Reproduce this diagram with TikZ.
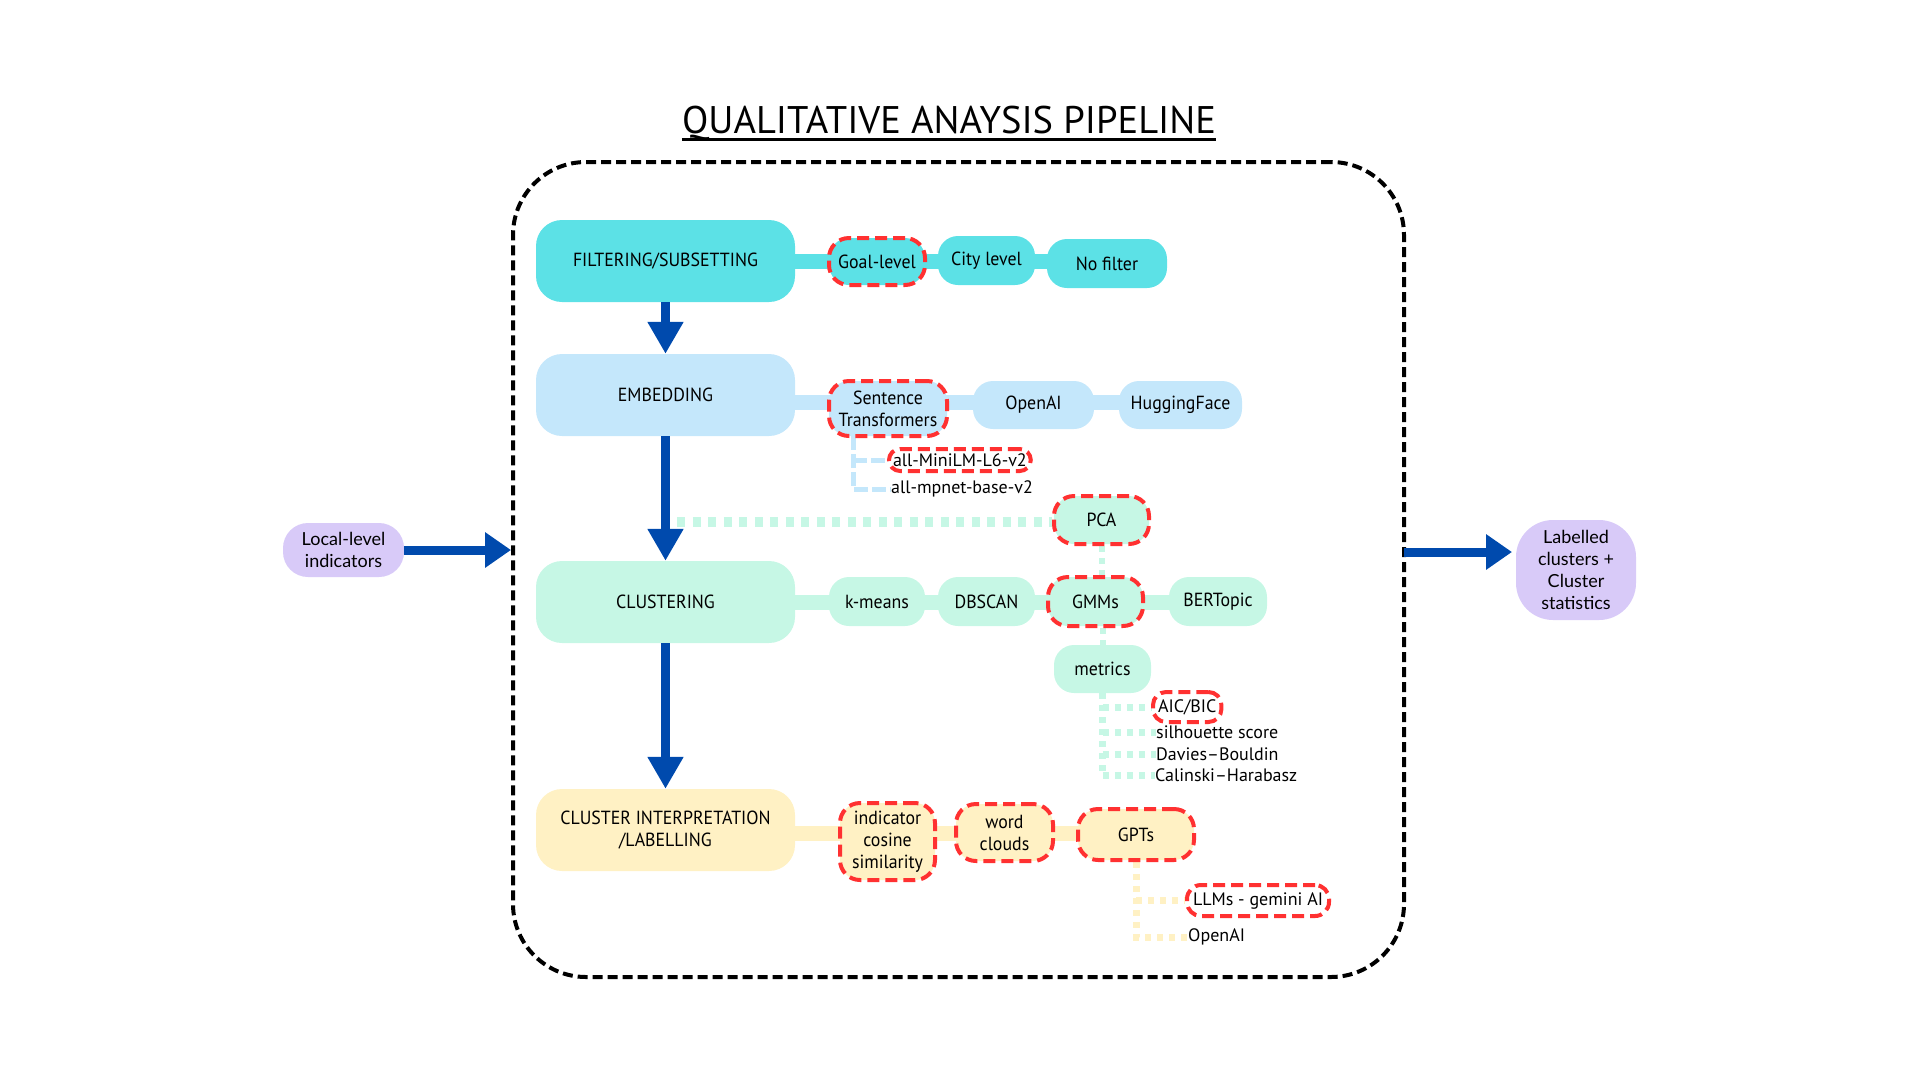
\documentclass[tikz,border=0pt]{standalone}
\usepackage{fontspec}
\setmainfont{PT Sans}
\newfontfamily\condfont{PT Sans}[FakeStretch=0.94]
\newfontfamily\lavfont{Lato}
\usetikzlibrary{arrows.meta,backgrounds}
\definecolor{cyanA}{HTML}{5CE1E6}
\definecolor{blueL}{HTML}{C4E7FB}
\definecolor{mintL}{HTML}{C6F7E5}
\definecolor{yelL}{HTML}{FFF1C4}
\definecolor{lav}{HTML}{D8CAF8}
\definecolor{selred}{HTML}{FF3131}
\definecolor{arrblue}{HTML}{004AAD}
\begin{document}
\begin{tikzpicture}[x=1pt,y=-1pt,
  stage/.style={rounded corners=26pt, minimum width=259pt, minimum height=82pt, inner sep=0pt, align=center, font=\condfont\fontsize{19}{22}\selectfont},
  opt/.style={rounded corners=20pt, inner sep=0pt, minimum height=48pt, align=center, font=\condfont\fontsize{19}{22}\selectfont},
  sel/.style={draw=selred, line width=4pt, dash pattern=on 12pt off 6pt},
  subtxt/.style={inner sep=0pt, anchor=west, font=\fontsize{18}{21}\selectfont},
  lavnode/.style={fill=lav, inner sep=0pt, align=center, font=\lavfont\fontsize{18}{22}\selectfont},
  varr/.style={draw=arrblue, line width=9pt, -{Triangle[length=32pt,width=34pt]}},
  harr/.style={draw=arrblue, line width=9pt, -{Triangle[length=26pt,width=34pt]}},
  band/.style={line width=15pt},
  dotsA/.style={line width=7pt, dash pattern=on 6pt off 6pt},
]
\useasboundingbox (0,0) rectangle (1920,1080);

% title
\node[inner sep=0pt, anchor=base, font=\fontsize{38.5}{42}\selectfont] (title) at (949,133) {QUALITATIVE ANAYSIS PIPELINE};
\draw[line width=3pt] ([yshift=-6pt]title.base west) -- ([yshift=-6pt]title.base east);

% frame
\node[draw, line width=4pt, dash pattern=on 10pt off 5pt, rounded corners=73pt, minimum width=891pt, minimum height=815pt, inner sep=0pt] (frame) at (958.5,569.5) {};

% stages
\node[stage, fill=cyanA] (filter) at (665.5,261) {FILTERING/SUBSETTING};
\node[stage, fill=blueL] (embed) at (665.5,395) {EMBEDDING};
\node[stage, fill=mintL] (clust) at (665.5,602) {CLUSTERING};
\node[stage, fill=yelL] (interp) at (665.5,830) {CLUSTER INTERPRETATION\\/LABELLING};

% row 1
\node[opt, fill=cyanA, sel, minimum width=96pt, minimum height=47pt] (goal) at (877,261.5) {Goal-level};
\node[opt, fill=cyanA, minimum width=97pt, minimum height=49pt] (city) at (986.5,260.5) {City level};
\node[opt, fill=cyanA, minimum width=120pt, minimum height=49pt] (nofilter) at (1107,263.5) {No filter};

% row 2
\node[opt, fill=blueL, sel, minimum width=118pt, minimum height=55pt] (sent) at (888,408.5) {Sentence\\Transformers};
\node[opt, fill=blueL, minimum width=121pt] (openai) at (1033.5,405) {OpenAI};
\node[opt, fill=blueL, minimum width=123pt] (hug) at (1180.5,405) {HuggingFace};
\node[subtxt, sel, rounded corners=11pt, inner xsep=4pt, minimum height=22pt] (minilm) at (887,460) {all-MiniLM-L6-v2};
\node[subtxt] (mpnet) at (891,489) {all-mpnet-base-v2};

% PCA
\node[opt, fill=mintL, sel, minimum width=95pt] (pca) at (1101.5,520) {PCA};

% row 3
\node[opt, fill=mintL, minimum width=96pt, minimum height=49pt] (kmeans) at (877,601.5) {k-means};
\node[opt, fill=mintL, minimum width=97pt, minimum height=49pt] (dbscan) at (986.5,601.5) {DBSCAN};
\node[opt, fill=mintL, sel, minimum width=95pt, minimum height=49pt] (gmm) at (1095.5,601.5) {GMMs};
\node[opt, fill=mintL, minimum width=98pt, minimum height=49pt] (bert) at (1218,601.5) {BERTopic};
\node[opt, fill=mintL, minimum width=97pt] (metrics) at (1102.5,669) {metrics};
\node[subtxt, sel, rounded corners=13pt, inner xsep=5pt, minimum height=30pt] (aic) at (1151,707) {AIC/BIC};
\node[subtxt] (sil) at (1156,732) {silhouette score};
\node[subtxt] (dav) at (1156,754) {Davies–Bouldin};
\node[subtxt] (cal) at (1155,775) {Calinski–Harabasz};

% row 4
\node[opt, fill=yelL, sel, minimum width=95pt, minimum height=77pt] (cos) at (887.5,841.5) {indicator\\cosine\\similarity};
\node[opt, fill=yelL, sel, minimum width=97pt, minimum height=57pt] (word) at (1004.5,832.5) {word\\clouds};
\node[opt, fill=yelL, sel, minimum width=116pt, minimum height=51pt] (gpts) at (1136,834.5) {GPTs};
\node[subtxt, sel, rounded corners=14pt, inner xsep=6pt, minimum height=31pt] (llm) at (1185,900.5) {LLMs - gemini AI};
\node[subtxt] (oai2) at (1188,937) {OpenAI};

% side nodes
\node[lavnode, rounded corners=25pt, minimum width=121pt, minimum height=54pt] (local) at (343.5,550) {Local-level\\indicators};
\node[lavnode, rounded corners=37pt, minimum width=120pt, minimum height=100pt] (lab) at (1576,570) {Labelled\\clusters +\\Cluster\\statistics};

% connectors behind
\coordinate (b2) at (795,402);
\coordinate (b4) at (795,833);
\coordinate (pcastart) at (677,522);
\coordinate (es) at (853,436);
\coordinate (rout) at (1404,552);
\coordinate (rin) at (1512,552);
\begin{scope}[on background layer]
  \draw[band, cyanA] (filter.east) -- (filter.east -| nofilter.center);
  \draw[band, blueL] (b2) -- (b2 -| hug.center);
  \draw[band, mintL] (clust.east) -- (clust.east -| bert.center);
  \draw[band, yelL] (b4) -- (b4 -| gpts.center);
  \draw[blueL, line width=5pt, dash pattern=on 14pt off 4pt] (es) -- (es |- mpnet.west) -- (mpnet.west);
  \draw[blueL, line width=5pt, dash pattern=on 14pt off 4pt] (es |- minilm.west) -- (minilm.west);
  \draw[mintL, line width=10pt, dash pattern=on 8pt off 7.5pt] (pcastart) -- (pcastart -| pca.west);
  \draw[mintL, line width=6pt, dash pattern=on 6pt off 6pt] (pca.south) -- (pca.south |- gmm.north);
  \draw[mintL, line width=6pt, dash pattern=on 6pt off 6pt] (metrics.north |- gmm.south) -- (metrics.north);
  \draw[mintL, dotsA] (metrics.south) -- (metrics.south |- cal.west);
  \draw[mintL, dotsA] (metrics.south |- aic.west) -- (aic.west);
  \draw[mintL, dotsA] (metrics.south |- sil.west) -- (sil.west);
  \draw[mintL, dotsA] (metrics.south |- dav.west) -- (dav.west);
  \draw[mintL, dotsA] (metrics.south |- cal.west) -- (cal.west);
  \draw[yelL, dotsA] (gpts.south) -- (gpts.south |- oai2.west) -- (oai2.west);
  \draw[yelL, dotsA] (gpts.south |- llm.west) -- (llm.west);
\end{scope}

% arrows
\draw[varr] (filter.south) -- (embed.north);
\draw[varr] (embed.south) -- (clust.north);
\draw[varr] (clust.south) -- (interp.north);
\draw[harr] (local.east) -- (local.east -| frame.west);
\draw[harr] (rout) -- (rin);
\end{tikzpicture}
\end{document}
